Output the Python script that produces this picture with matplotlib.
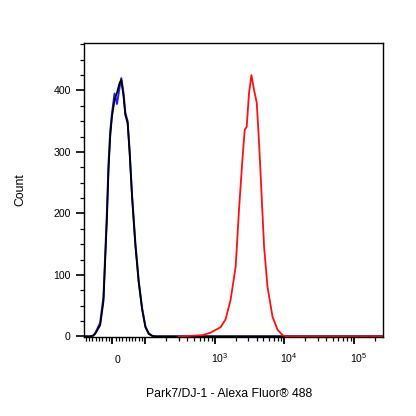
"""Flow cytometry overlay histogram: Park7/DJ-1 - Alexa Fluor 488."""

import matplotlib
matplotlib.use("Agg")
import matplotlib.pyplot as plt
from matplotlib.ticker import MultipleLocator, FixedLocator
from matplotlib.transforms import ScaledTranslation

plt.rcParams["font.family"] = ["Liberation Sans", "DejaVu Sans"]
plt.rcParams["mathtext.fontset"] = "custom"
plt.rcParams["mathtext.rm"] = "Liberation Sans"
plt.rcParams["mathtext.it"] = "Liberation Sans:italic"

# isotype / unstained control (black) and second control (blue)
ctrl_x = [-85, -66.7, -58, -51.5, -36.4, -26.4, -16.1, -11.2, -6.1, -0.9, 7.0,
          14.2, 22.1, 27.3, 34.2, 39.4, 46.4, 52.4, 59.7, 69.7, 79.7, 90.0,
          100, 111.6, 124.9, 140, 262144]
black_y = [0, 0, 1, 4, 18, 57, 190, 271, 325, 357, 385,
           396, 412, 417, 390, 360, 347, 299, 227, 148, 88, 44,
           15, 4, 1, 0, 0]
blue_y = [0, 0, 1, 5, 22, 64, 200, 280, 333, 362, 395,
          378, 405, 420, 395, 364, 350, 302, 230, 152, 91, 46,
          16, 5, 1, 0, 0]

# stained sample (red)
red_x = [300, 342, 658, 867, 1208, 1427, 1685, 1990, 2220, 2485, 2683, 2866,
         3096, 3350, 3654, 3997, 4316, 4675, 5096, 5703, 6735, 7950, 9397,
         10470, 262144]
red_y = [0, 0, 2, 6, 15, 28, 60, 114, 206, 287, 336, 341,
         396, 425, 401, 380, 315, 234, 146, 81, 32, 11, 2,
         0, 0]

x_major = [0, 100, 1e3, 1e4, 1e5]
x_major_labels = ["0", "", "$10^3$", "$10^4$", "$10^5$"]
x_minor = ([v for v in range(-80, 100, 10) if v != 0]
           + [m * 10 ** e for e in (2, 3, 4) for m in range(2, 10)]
           + [2e5])
y_major = [0, 100, 200, 300, 400]


def main() -> None:
    fig = plt.figure(figsize=(4.16, 4.16), dpi=100)
    ax = fig.add_axes([84 / 416, 1 - 337 / 416, 299 / 416, 294.5 / 416])

    ax.set_xscale("symlog", linthresh=100, linscale=0.43)

    ax.plot(ctrl_x, blue_y, color="#1a1aff", lw=1.4)
    ax.plot(ctrl_x, black_y, color="black", lw=1.3)
    ax.plot(red_x, red_y, color="#ff1010", lw=1.3)

    ax.set_xlim(-85, 262144)
    ax.set_ylim(-1, 478)

    ax.xaxis.set_major_locator(FixedLocator(x_major))
    ax.xaxis.set_minor_locator(FixedLocator(x_minor))
    ax.set_xticklabels(x_major_labels)
    ax.set_yticks(y_major)
    ax.yaxis.set_minor_locator(MultipleLocator(25))

    ax.tick_params(axis="x", which="major", length=5, width=1.3, pad=14,
                   labelsize=7.6, direction="out")
    ax.tick_params(axis="x", which="minor", length=3, width=0.9, direction="out")
    ax.tick_params(axis="y", which="major", length=6, width=1.2, pad=3.5,
                   labelsize=7.6, direction="out")
    ax.tick_params(axis="y", which="minor", length=3, width=0.9, direction="out")

    shift = ScaledTranslation(3.5 / 72, 0, fig.dpi_scale_trans)
    for lab in ax.get_xticklabels():
        lab.set_verticalalignment("baseline")
        lab.set_transform(lab.get_transform() + shift)

    for side in ("left", "right", "top", "bottom"):
        ax.spines[side].set_linewidth(1.0)

    ax.set_ylabel("Count", fontsize=8.8)
    ax.yaxis.set_label_coords(-0.194, 0.5)
    ax.set_xlabel("Park7/DJ-1 - Alexa Fluor® 488", fontsize=8.8)
    ax.xaxis.set_label_coords(0.485, -0.173)

    fig.savefig("out.png", dpi=100)
    plt.close(fig)


if __name__ == "__main__":
    main()
